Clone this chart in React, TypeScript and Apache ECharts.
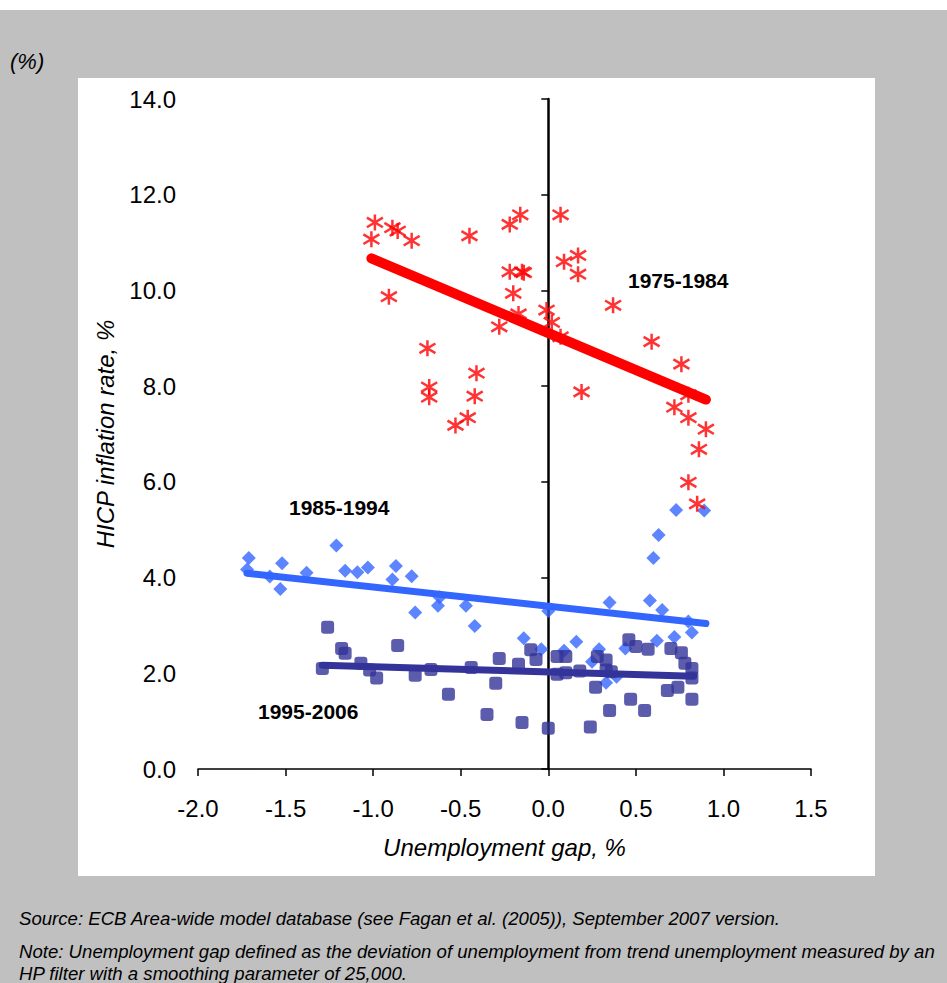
import React, { useEffect, useRef } from "react";
import * as echarts from "echarts";

// 1975-1984 (red asterisks): [unemployment gap, HICP inflation]
const gap7584 = [-1.01, -0.99, -0.89, -0.86, -0.78, -0.91, -0.45, -0.22, -0.16, -0.22, -0.15, -0.14, -0.2, -0.17, -0.28, -0.69, -0.68, -0.68, -0.41, -0.42, -0.46, -0.53, -0.01, 0.02, 0.07, 0.07, 0.09, 0.17, 0.17, 0.19, 0.37, 0.59, 0.76, 0.8, 0.72, 0.8, 0.9, 0.86, 0.8, 0.85];
const infl7584 = [11.07, 11.42, 11.31, 11.24, 11.04, 9.87, 11.14, 11.38, 11.58, 10.39, 10.39, 10.37, 9.94, 9.51, 9.24, 8.79, 7.98, 7.77, 8.27, 7.79, 7.34, 7.18, 9.59, 9.33, 9.03, 11.58, 10.6, 10.73, 10.34, 7.88, 9.69, 8.93, 8.46, 7.82, 7.56, 7.34, 7.1, 6.68, 5.99, 5.54];
const trendGap7584 = [-1.01, 0.9];
const trendInfl7584 = [10.67, 7.72];

// 1985-1994 (blue diamonds)
const gap8594 = [-1.71, -1.72, -1.52, -1.59, -1.53, -1.38, -1.21, -1.16, -1.09, -1.03, -0.87, -0.89, -0.78, -0.76, -0.63, -0.62, -0.47, -0.42, -0.14, -0.04, 0.0, 0.09, 0.16, 0.35, 0.29, 0.25, 0.33, 0.39, 0.44, 0.58, 0.6, 0.65, 0.62, 0.72, 0.8, 0.82, 0.63, 0.73, 0.89];
const infl8594 = [4.41, 4.17, 4.3, 4.02, 3.76, 4.1, 4.67, 4.14, 4.11, 4.21, 4.24, 3.96, 4.03, 3.27, 3.41, 3.59, 3.41, 2.99, 2.73, 2.5, 3.3, 2.47, 2.66, 3.48, 2.5, 2.24, 1.8, 1.93, 2.52, 3.52, 4.41, 3.32, 2.68, 2.76, 3.08, 2.85, 4.89, 5.41, 5.4];
const trendGap8594 = [-1.72, 0.9];
const trendInfl8594 = [4.09, 3.04];

// 1995-2006 (dark blue squares)
const gap9506 = [-1.26, -1.18, -1.16, -1.29, -1.07, -1.02, -0.98, -0.86, -0.76, -0.67, -0.57, -0.44, -0.35, -0.3, -0.28, -0.17, -0.15, -0.1, -0.07, 0.0, 0.05, 0.1, 0.05, 0.1, 0.18, 0.28, 0.33, 0.33, 0.36, 0.27, 0.35, 0.24, 0.46, 0.5, 0.57, 0.47, 0.55, 0.7, 0.76, 0.78, 0.82, 0.82, 0.68, 0.74, 0.82];
const infl9506 = [2.96, 2.52, 2.42, 2.1, 2.21, 2.07, 1.9, 2.58, 1.96, 2.08, 1.56, 2.12, 1.14, 1.79, 2.31, 2.19, 0.97, 2.49, 2.29, 0.85, 2.35, 2.35, 1.98, 2.01, 2.05, 2.35, 2.28, 2.07, 2.03, 1.71, 1.22, 0.88, 2.7, 2.56, 2.5, 1.46, 1.22, 2.52, 2.43, 2.21, 2.1, 1.9, 1.64, 1.71, 1.46];
const trendGap9506 = [-1.29, 0.83];
const trendInfl9506 = [2.17, 1.94];

const xTicks = { min: -2, max: 1.5, interval: 0.5 };
const yTicks = { min: 0, max: 14, interval: 2 };

const periodLabels = ["1975-1984", "1985-1994", "1995-2006"];
const yUnit = "(%)";
const xName = "Unemployment gap, %";
const yName = "HICP inflation rate, %";
const sourceText = "Source: ECB Area-wide model database (see Fagan et al. (2005)), September 2007 version.";
const noteLine1 = "Note: Unemployment gap defined as the deviation of unemployment from trend unemployment measured by an";
const noteLine2 = "HP filter with a smoothing parameter of 25,000.";

const FONT = "'Liberation Sans', Arial, Helvetica, sans-serif";
const ASTERISK = "path://M10,0L10,20M2.5,4L17.5,16M2.5,16L17.5,4";

const pairs = (xs: number[], ys: number[]) => xs.map((x, i) => [x, ys[i]]);

export default function App() {
  const ref = useRef<HTMLDivElement>(null);
  useEffect(() => {
    if (!ref.current) return;
    const chart = echarts.init(ref.current, null, { renderer: "svg" });
    const labelStyle = { color: "#000", fontFamily: FONT, fontSize: 24 };
    chart.setOption({
      animation: false,
      backgroundColor: "#C0C0C0",
      grid: { left: 198, right: 136, top: 99, bottom: 214 },
      xAxis: {
        type: "value",
        min: xTicks.min,
        max: xTicks.max,
        interval: xTicks.interval,
        axisLine: { show: true, onZero: false, lineStyle: { color: "#000", width: 1.5 } },
        axisTick: { show: true, length: 7, lineStyle: { color: "#000", width: 1.5 } },
        axisLabel: { ...labelStyle, margin: 27, formatter: (v: number) => v.toFixed(1) },
        splitLine: { show: false },
        name: xName,
        nameLocation: "middle",
        nameGap: 66,
        nameTextStyle: { color: "#000", fontFamily: FONT, fontSize: 24, fontStyle: "italic" },
      },
      yAxis: [
        {
          type: "value",
          position: "left",
          min: yTicks.min,
          max: yTicks.max,
          interval: yTicks.interval,
          axisLine: { show: false, onZero: false },
          axisTick: { show: false },
          axisLabel: { ...labelStyle, margin: 22, formatter: (v: number) => v.toFixed(1) },
          splitLine: { show: false },
          name: yName,
          nameLocation: "middle",
          nameRotate: 90,
          nameGap: 81,
          nameTextStyle: { color: "#000", fontFamily: FONT, fontSize: 24, fontStyle: "italic" },
        },
        {
          type: "value",
          position: "left",
          min: yTicks.min,
          max: yTicks.max,
          interval: yTicks.interval,
          axisLine: { show: true, onZero: true, lineStyle: { color: "#000", width: 2.5 } },
          axisTick: { show: true, length: 7, lineStyle: { color: "#000", width: 1.5 } },
          axisLabel: { show: false },
          splitLine: { show: false },
        },
      ],
      graphic: [
        { type: "rect", z: -10, shape: { x: 0, y: 0, width: 947, height: 10 }, style: { fill: "#fff" } },
        { type: "rect", z: -10, shape: { x: 78, y: 78, width: 797, height: 798 }, style: { fill: "#fff" } },
        { type: "text", x: 10, y: 61, style: { text: yUnit, fill: "#000", fontFamily: FONT, fontSize: 22, fontStyle: "italic", verticalAlign: "middle" } },
        { type: "text", x: 628, y: 280, style: { text: periodLabels[0], fill: "#000", fontFamily: FONT, fontSize: 21, fontWeight: "bold", verticalAlign: "middle" } },
        { type: "text", x: 289, y: 507, style: { text: periodLabels[1], fill: "#000", fontFamily: FONT, fontSize: 21, fontWeight: "bold", verticalAlign: "middle" } },
        { type: "text", x: 258, y: 711, style: { text: periodLabels[2], fill: "#000", fontFamily: FONT, fontSize: 21, fontWeight: "bold", verticalAlign: "middle" } },
        { type: "text", x: 19, y: 918, style: { text: sourceText, fill: "#000", fontFamily: FONT, fontSize: 18.6, fontStyle: "italic", verticalAlign: "middle" } },
        { type: "text", x: 19, y: 951, style: { text: noteLine1, fill: "#000", fontFamily: FONT, fontSize: 18.6, fontStyle: "italic", verticalAlign: "middle" } },
        { type: "text", x: 19, y: 973, style: { text: noteLine2, fill: "#000", fontFamily: FONT, fontSize: 18.6, fontStyle: "italic", verticalAlign: "middle" } },
      ],
      series: [
        {
          type: "scatter",
          name: periodLabels[1],
          data: pairs(gap8594, infl8594),
          symbol: "diamond",
          symbolSize: 14,
          itemStyle: { color: "#3366FF" },
        },
        {
          type: "line",
          data: pairs(trendGap8594, trendInfl8594),
          symbol: "none",
          lineStyle: { color: "#3366FF", width: 7, cap: "round" },
        },
        {
          type: "scatter",
          name: periodLabels[2],
          data: pairs(gap9506, infl9506),
          symbol: "roundRect",
          symbolSize: 13,
          itemStyle: { color: "#333399" },
        },
        {
          type: "line",
          data: pairs(trendGap9506, trendInfl9506),
          symbol: "none",
          lineStyle: { color: "#333399", width: 7, cap: "round" },
        },
        {
          type: "scatter",
          name: periodLabels[0],
          data: pairs(gap7584, infl7584),
          symbol: ASTERISK,
          symbolSize: 16,
          itemStyle: { color: "rgba(0,0,0,0)", borderColor: "#FF0000", borderWidth: 2.5 },
        },
        {
          type: "line",
          data: pairs(trendGap7584, trendInfl7584),
          symbol: "none",
          lineStyle: { color: "#FF0000", width: 10, cap: "round" },
        },
      ],
    });
    return () => chart.dispose();
  }, []);
  return (
    <div
      ref={ref}
      style={{ position: "absolute", left: 0, top: 0, width: 947, height: 983 }}
    />
  );
}
